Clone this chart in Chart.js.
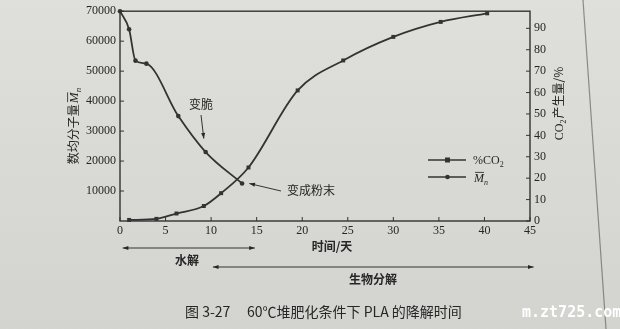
<!DOCTYPE html>
<html>
<head>
<meta charset="utf-8">
<script src="https://cdn.jsdelivr.net/npm/chart.js@4.4.1/dist/chart.umd.min.js"></script>
<style>
  html, body { margin: 0; padding: 0; background: #dadad6; }
  #wrap { width: 620px; height: 329px; }
</style>
</head>
<body>
<div id="wrap"><canvas id="chart" width="620" height="329"></canvas></div>
<script>
// values (days, Mn, CO2 %)
const mnDays = [0, 1, 1.7, 2.9, 6.4, 9.4, 13.4];
const mnValues = [70000, 64000, 53500, 52500, 35000, 23000, 12500];

const co2Days = [1, 4, 6.2, 9.2, 11.1, 14.1, 19.5, 24.5, 30, 35.2, 40.3];
const co2Values = [0.5, 1, 3.5, 7, 13, 25, 61, 75, 86, 93, 97];

const xTicks = [0, 5, 10, 15, 20, 25, 30, 35, 40, 45];
const mnTicks = [10000, 20000, 30000, 40000, 50000, 60000, 70000];
const co2Ticks = [0, 10, 20, 30, 40, 50, 60, 70, 80, 90];

const ink = '#262626';
const lineInk = '#333333';
const serif = "'Liberation Serif', 'DejaVu Serif', serif";
const cjk = "'Noto Sans CJK SC', sans-serif";

function arrowHead(c, x1, y1, x2, y2, size) {
  const a = Math.atan2(y2 - y1, x2 - x1);
  c.beginPath();
  c.moveTo(x2, y2);
  c.lineTo(x2 - size * Math.cos(a - 0.35), y2 - size * Math.sin(a - 0.35));
  c.lineTo(x2 - size * Math.cos(a + 0.35), y2 - size * Math.sin(a + 0.35));
  c.closePath();
  c.fill();
}

function arrow(c, x1, y1, x2, y2, both) {
  c.beginPath();
  c.moveTo(x1, y1);
  c.lineTo(x2, y2);
  c.stroke();
  arrowHead(c, x1, y1, x2, y2, 6);
  if (both) arrowHead(c, x2, y2, x1, y1, 6);
}

// M with overbar and subscript n, returns width
function drawMn(c, x, y, size, measureOnly) {
  c.font = 'italic ' + size + 'px ' + serif;
  const wM = c.measureText('M').width;
  c.font = 'italic ' + Math.round(size * 0.7) + 'px ' + serif;
  const wn = c.measureText('n').width;
  if (measureOnly) return wM + wn + 1;
  c.font = 'italic ' + size + 'px ' + serif;
  c.fillText('M', x, y);
  c.beginPath();
  c.moveTo(x + 1, y - size * 0.8);
  c.lineTo(x + wM, y - size * 0.8);
  c.stroke();
  c.font = 'italic ' + Math.round(size * 0.7) + 'px ' + serif;
  c.fillText('n', x + wM, y + size * 0.22);
  return wM + wn + 1;
}

const decor = {
  id: 'decor',
  beforeDraw(chart) {
    const c = chart.ctx;
    c.save();
    const g = c.createLinearGradient(0, 0, 0, chart.height);
    g.addColorStop(0, '#dfdfdb');
    g.addColorStop(1, '#d3d3cf');
    c.fillStyle = g;
    c.fillRect(0, 0, chart.width, chart.height);
    // page edge on the right
    c.strokeStyle = 'rgba(70,70,70,0.55)';
    c.lineWidth = 1.2;
    c.beginPath();
    c.moveTo(583, 0);
    c.lineTo(606, 329);
    c.stroke();
    c.restore();
  },
  afterDraw(chart) {
    const c = chart.ctx;
    const a = chart.chartArea;
    const sx = chart.scales.x, sy = chart.scales.y, sy1 = chart.scales.y1;
    c.save();
    c.strokeStyle = lineInk;
    c.fillStyle = ink;
    c.lineWidth = 1.4;
    c.strokeRect(a.left, a.top, a.right - a.left, a.bottom - a.top);

    // inward tick marks
    c.lineWidth = 1;
    sx.ticks.forEach(t => {
      const p = sx.getPixelForValue(t.value);
      c.beginPath(); c.moveTo(p, a.bottom); c.lineTo(p, a.bottom - 4); c.stroke();
    });
    sy.ticks.forEach(t => {
      const p = sy.getPixelForValue(t.value);
      c.beginPath(); c.moveTo(a.left, p); c.lineTo(a.left + 4, p); c.stroke();
    });
    sy1.ticks.forEach(t => {
      const p = sy1.getPixelForValue(t.value);
      c.beginPath(); c.moveTo(a.right, p); c.lineTo(a.right - 4, p); c.stroke();
    });

    c.textBaseline = 'alphabetic';
    // left axis title
    c.save();
    c.translate(78, 126);
    c.rotate(-Math.PI / 2);
    const t1 = '数均分子量';
    const wMn = drawMn(c, 0, 0, 13, true);
    c.font = '12px ' + cjk;
    const w1 = c.measureText(t1).width;
    const start = -(w1 + wMn) / 2;
    c.fillText(t1, start, 0);
    c.lineWidth = 0.9;
    drawMn(c, start + w1 + 1, 0, 13);
    c.restore();

    // right axis title
    c.save();
    c.translate(563, 104);
    c.rotate(-Math.PI / 2);
    c.font = '12px ' + serif;
    const wCO = c.measureText('CO').width;
    c.font = '8px ' + serif;
    const w2 = c.measureText('2').width;
    c.font = '12px ' + cjk;
    const wRest = c.measureText('产生量/%').width;
    const sxx = -(wCO + w2 + wRest) / 2;
    c.font = '12px ' + serif;
    c.fillText('CO', sxx, 0);
    c.font = '8px ' + serif;
    c.fillText('2', sxx + wCO, 3);
    c.font = '12px ' + cjk;
    c.fillText('产生量/%', sxx + wCO + w2 + 1, 0);
    c.restore();

    // legend
    const lx1 = 428, lx2 = 466;
    c.lineWidth = 1.6;
    c.strokeStyle = lineInk;
    [[160, 'rect'], [177, 'circle']].forEach(([ly, st]) => {
      c.beginPath(); c.moveTo(lx1, ly); c.lineTo(lx2, ly); c.stroke();
      c.fillStyle = lineInk;
      if (st === 'rect') c.fillRect(445, ly - 2.5, 5, 5);
      else { c.beginPath(); c.arc(447.5, ly, 2.3, 0, Math.PI * 2); c.fill(); }
    });
    c.fillStyle = ink;
    c.font = '12px ' + serif;
    c.fillText('%CO', 473, 164);
    const wpc = c.measureText('%CO').width;
    c.font = '8px ' + serif;
    c.fillText('2', 473 + wpc, 167);
    c.lineWidth = 0.9;
    drawMn(c, 474, 182, 12);

    // annotations
    c.font = '12px ' + cjk;
    c.textAlign = 'center';
    c.fillText('变脆', 201, 109);
    c.lineWidth = 1;
    c.strokeStyle = lineInk;
    arrow(c, 201, 115, sx.getPixelForValue(9.2), sy.getPixelForValue(27500), false);
    c.textAlign = 'left';
    c.fillText('变成粉末', 287, 195);
    arrow(c, 281, 191, sx.getPixelForValue(14.2), sy.getPixelForValue(12500), false);

    // x title and process arrows
    c.textAlign = 'center';
    c.font = 'bold 12px ' + cjk;
    c.fillText('时间/天', 332, 251);
    arrow(c, sx.getPixelForValue(0.3), 248, sx.getPixelForValue(14.8), 248, true);
    c.fillText('水解', 187, 265);
    arrow(c, sx.getPixelForValue(10.2), 267, sx.getPixelForValue(45.4), 267, true);
    c.fillText('生物分解', 373, 284);

    // caption
    c.textAlign = 'left';
    c.font = '14px ' + cjk;
    c.fillText('图 3-27', 185, 317);
    c.fillText('60℃堆肥化条件下 PLA 的降解时间', 247, 317);

    // watermark
    c.fillStyle = '#ffffff';
    c.font = 'bold 15px "DejaVu Sans Mono", monospace';
    c.fillText('m.zt725.com', 522, 317);
    c.restore();
  }
};

const tickFont = { family: serif, size: 12 };

new Chart(document.getElementById('chart'), {
  type: 'line',
  data: {
    datasets: [
      {
        label: '%CO2',
        data: co2Days.map((d, i) => ({ x: d, y: co2Values[i] })),
        yAxisID: 'y1',
        borderColor: lineInk,
        borderWidth: 1.8,
        pointStyle: 'rect',
        pointRadius: 2.8,
        pointBackgroundColor: lineInk,
        pointBorderWidth: 0,
        cubicInterpolationMode: 'monotone',
        clip: false
      },
      {
        label: 'Mn',
        data: mnDays.map((d, i) => ({ x: d, y: mnValues[i] })),
        yAxisID: 'y',
        borderColor: lineInk,
        borderWidth: 1.8,
        pointStyle: 'circle',
        pointRadius: 2.3,
        pointBackgroundColor: lineInk,
        pointBorderWidth: 0,
        cubicInterpolationMode: 'monotone',
        clip: false
      }
    ]
  },
  options: {
    responsive: false,
    devicePixelRatio: 1,
    animation: false,
    layout: { padding: { left: 0, right: 0, top: 8, bottom: 0 } },
    plugins: { legend: { display: false }, tooltip: { enabled: false } },
    scales: {
      x: {
        type: 'linear', min: 0, max: 45,
        afterBuildTicks: s => { s.ticks = xTicks.map(v => ({ value: v })); },
        ticks: { color: ink, font: tickFont, padding: 3, maxRotation: 0 },
        grid: { display: false, drawTicks: false },
        border: { display: false },
        afterFit: s => { s.height = 108; }
      },
      y: {
        position: 'left', min: 0, max: 70000,
        afterBuildTicks: s => { s.ticks = mnTicks.map(v => ({ value: v })); },
        ticks: { color: ink, font: tickFont, padding: 4, callback: v => String(v) },
        grid: { display: false, drawTicks: false },
        border: { display: false },
        afterFit: s => { s.width = 120; }
      },
      y1: {
        position: 'right', min: 0, max: 98,
        afterBuildTicks: s => { s.ticks = co2Ticks.map(v => ({ value: v })); },
        ticks: { color: ink, font: tickFont, padding: 4, callback: v => String(v) },
        grid: { display: false, drawTicks: false },
        border: { display: false },
        afterFit: s => { s.width = 90; }
      }
    }
  },
  plugins: [decor]
});
</script>
</body>
</html>
